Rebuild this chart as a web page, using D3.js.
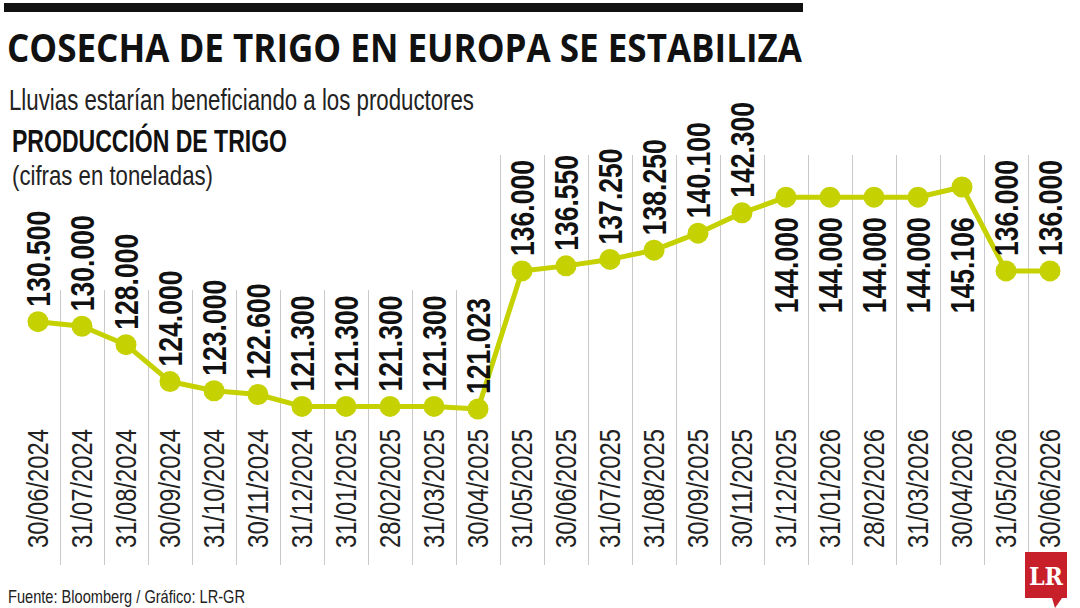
<!DOCTYPE html>
<html>
<head>
<meta charset="utf-8">
<script src="https://cdn.jsdelivr.net/npm/d3@7"></script>
<style>
body{margin:0;background:#fff;}
svg{display:block;}
</style>
</head>
<body>
<svg width="1080" height="608"></svg>
<script>
var fechas = ["30/06/2024","31/07/2024","31/08/2024","30/09/2024","31/10/2024","30/11/2024",
"31/12/2024","31/01/2025","28/02/2025","31/03/2025","30/04/2025","31/05/2025","30/06/2025",
"31/07/2025","31/08/2025","30/09/2025","30/11/2025","31/12/2025","31/01/2026","28/02/2026",
"31/03/2026","30/04/2026","31/05/2026","30/06/2026"];
var produccion = [130.5,130.0,128.0,124.0,123.0,122.6,121.3,121.3,121.3,121.3,121.023,
136.0,136.55,137.25,138.25,140.1,142.3,144.0,144.0,144.0,144.0,145.106,136.0,136.0];
var etiquetas = ["130.500","130.000","128.000","124.000","123.000","122.600","121.300","121.300",
"121.300","121.300","121.023","136.000","136.550","137.250","138.250","140.100","142.300",
"144.000","144.000","144.000","144.000","145.106","136.000","136.000"];

var verde = "#c5d100";
var svg = d3.select("svg");

var x = d3.scaleBand().domain(fechas).range([16, 1072]).padding(0);
var y = d3.scaleLinear().domain([121.023, 145.106]).range([409, 187]);
var cx = function(d){ return x(d) + x.bandwidth() / 2; };

// barra y titulos
svg.append("rect").attr("x", 4).attr("y", 3).attr("width", 799).attr("height", 9).attr("fill", "#111");
svg.append("text").attr("x", 7).attr("y", 62)
  .attr("font-family", "'Open Sans', sans-serif").attr("font-weight", 700).attr("font-size", 40)
  .attr("textLength", 795).attr("lengthAdjust", "spacingAndGlyphs").attr("fill", "#111")
  .text("COSECHA DE TRIGO EN EUROPA SE ESTABILIZA");
svg.append("text").attr("x", 9).attr("y", 110)
  .attr("font-family", "'Liberation Sans', sans-serif").attr("font-size", 29)
  .attr("textLength", 465).attr("lengthAdjust", "spacingAndGlyphs").attr("fill", "#222")
  .text("Lluvias estarían beneficiando a los productores");
svg.append("text").attr("x", 12).attr("y", 152)
  .attr("font-family", "'Liberation Sans', sans-serif").attr("font-weight", 700).attr("font-size", 32)
  .attr("textLength", 275).attr("lengthAdjust", "spacingAndGlyphs").attr("fill", "#111")
  .text("PRODUCCIÓN DE TRIGO");
svg.append("text").attr("x", 12).attr("y", 185)
  .attr("font-family", "'Liberation Sans', sans-serif").attr("font-size", 28)
  .attr("textLength", 201).attr("lengthAdjust", "spacingAndGlyphs").attr("fill", "#222")
  .text("(cifras en toneladas)");

// lineas de separacion
svg.append("g").selectAll("line").data(fechas.slice(1)).enter().append("line")
  .attr("x1", function(d){ return x(d) + 0.5; }).attr("x2", function(d){ return x(d) + 0.5; })
  .attr("y1", function(d){ return x(d) < 490 ? 290 : 155; }).attr("y2", 565)
  .attr("stroke", "#c9c9c9").attr("stroke-width", 1);

// fechas
svg.append("g").selectAll("text").data(fechas).enter().append("text")
  .attr("transform", function(d){ return "translate(" + cx(d) + ",548) rotate(-90)"; })
  .attr("dy", "0.36em")
  .attr("font-family", "'Liberation Sans', sans-serif").attr("font-size", 29)
  .attr("textLength", 119).attr("lengthAdjust", "spacingAndGlyphs")
  .attr("fill", "#222")
  .text(function(d){ return d; });

// serie
var pts = fechas.map(function(d, i){ return {f: d, v: produccion[i], t: etiquetas[i]}; });
svg.append("path").datum(pts)
  .attr("d", d3.line().x(function(d){ return cx(d.f); }).y(function(d){ return y(d.v); }))
  .attr("fill", "none").attr("stroke", verde).attr("stroke-width", 5).attr("stroke-linejoin", "round");
svg.append("g").selectAll("circle").data(pts).enter().append("circle")
  .attr("cx", function(d){ return cx(d.f); }).attr("cy", function(d){ return y(d.v); })
  .attr("r", 10.5).attr("fill", verde);

// etiquetas de valor
var abajo = function(d){ return d.v >= 143.5; };
svg.append("g").selectAll("text").data(pts).enter().append("text")
  .attr("transform", function(d){
    var yy = abajo(d) ? y(144) + 20 : y(d.v) - 15;
    return "translate(" + cx(d.f) + "," + yy + ") rotate(-90)";
  })
  .attr("text-anchor", function(d){ return abajo(d) ? "end" : "start"; })
  .attr("dy", "0.36em")
  .attr("font-family", "'Liberation Sans', sans-serif").attr("font-weight", 700).attr("font-size", 33)
  .attr("textLength", 96).attr("lengthAdjust", "spacingAndGlyphs")
  .attr("fill", "#111")
  .text(function(d){ return d.t; });

// fuente
svg.append("text").attr("x", 8).attr("y", 603)
  .attr("font-family", "'Liberation Sans', sans-serif").attr("font-size", 19)
  .attr("textLength", 237).attr("lengthAdjust", "spacingAndGlyphs").attr("fill", "#222")
  .text("Fuente: Bloomberg / Gráfico: LR-GR");

// logo
var logo = svg.append("g").attr("transform", "translate(1025,552)");
logo.append("path").attr("d", "M0,0H42V46H37L30,56L27,46H0Z").attr("fill", "#c8202a");
logo.append("text").attr("x", 21).attr("y", 33).attr("text-anchor", "middle")
  .attr("font-family", "'DejaVu Serif', serif").attr("font-weight", 700).attr("font-size", 24)
  .attr("textLength", 34).attr("lengthAdjust", "spacingAndGlyphs").attr("fill", "#fff")
  .text("LR");
</script>
</body>
</html>
